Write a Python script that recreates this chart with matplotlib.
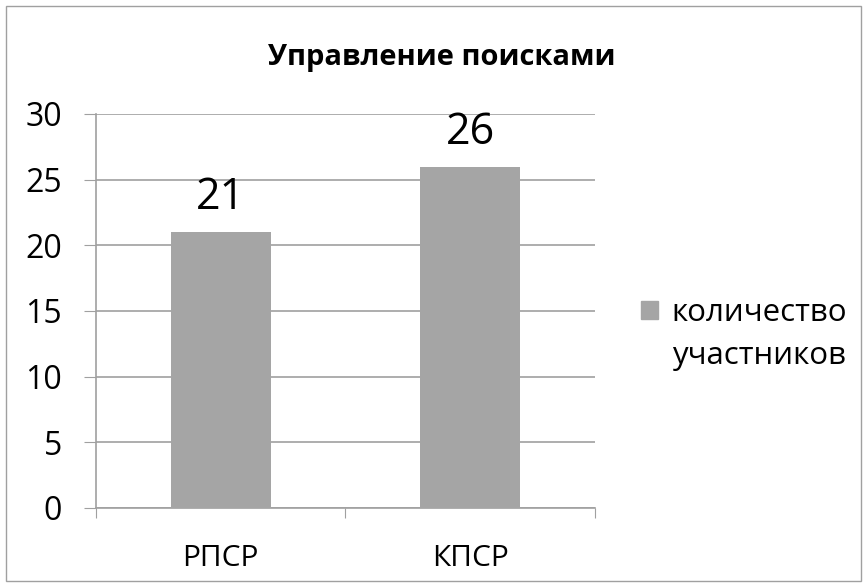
import matplotlib.pyplot as plt
from matplotlib.patches import Rectangle, Patch

categories = ['РПСР', 'КПСР']
values = [21, 26]
series_name = ['количество', 'участников']
title = 'Управление поисками'

plt.rcParams['font.family'] = ['Open Sans', 'DejaVu Sans']

fig = plt.figure(figsize=(8.67, 5.87), dpi=100)
ax = fig.add_axes([0.1107, 0.1346, 0.5756, 0.6712])

x = list(range(len(categories)))
bars = ax.bar(x, values, width=0.4, color='#A5A5A5', zorder=3)
for xi, v in zip(x, values):
    ax.text(xi, v + 0.9, str(v), ha='center', va='bottom', fontsize=31)

ax.set_xlim(-0.5, 1.5)
ax.set_ylim(0, 30)
ax.set_yticks(range(0, 31, 5))
ax.set_xticks([-0.5, 0.5, 1.5], minor=False)
ax.set_xticklabels(['', '', ''])
ax.set_xticks(x, minor=True)
ax.set_xticklabels(categories, minor=True, fontsize=21.5)
ax.tick_params(axis='x', which='minor', length=0, pad=26)
ax.tick_params(axis='x', which='major', length=7, color='#A0A0A0')
ax.tick_params(axis='y', length=8.5, color='#A0A0A0', labelsize=23, pad=16)
ax.grid(axis='y', color='#A0A0A0', linewidth=1.2, zorder=0)
for side in ['top', 'right']:
    ax.spines[side].set_visible(False)
for side in ['left', 'bottom']:
    ax.spines[side].set_color('#A0A0A0')
    ax.spines[side].set_linewidth(1.2)

fig.text(0.51, 1 - 57 / 587, title, ha='center', va='center',
         fontsize=21, fontweight='bold')

handles = [Patch(color='#A5A5A5'), Patch(visible=False)]
leg = ax.legend(handles, series_name, loc='center left', bbox_to_anchor=(1.06, 0.44),
                frameon=False, fontsize=22.5, handlelength=0.55, handleheight=0.55,
                handletextpad=0.45, labelspacing=0.42, borderpad=0)

fig.patches.append(Rectangle((0.007, 0.01), 0.986, 0.98, transform=fig.transFigure,
                             fill=False, edgecolor='#A0A0A0', linewidth=1))

fig.savefig('out.png', dpi=100)
